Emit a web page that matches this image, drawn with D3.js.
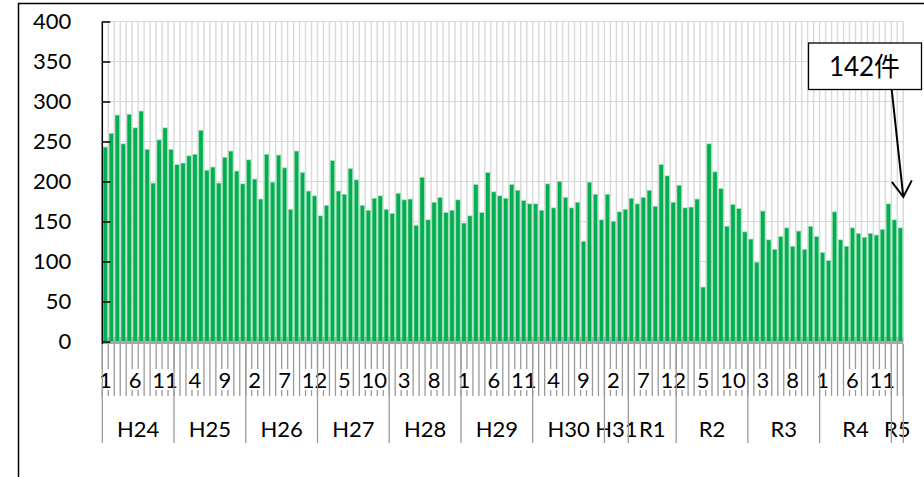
<!DOCTYPE html>
<html>
<head>
<meta charset="utf-8">
<script src="https://cdn.jsdelivr.net/npm/d3@7"></script>
<style>
  html, body { margin: 0; padding: 0; background: #fff; }
  svg { display: block; }
  text { font-family: "Lato", "Noto Sans CJK JP", sans-serif; fill: #000; }
</style>
</head>
<body>
<div id="chart"></div>
<script>
// monthly counts, Jan H24 (2012) .. Feb R5 (2023)
var yearLabels = ["H24", "H25", "H26", "H27", "H28", "H29", "H30", "H31", "R1", "R2", "R3", "R4", "R5"];
var yearMonths = [12, 12, 12, 12, 12, 12, 12, 4, 8, 12, 12, 12, 2];
var monthNames = ["1", "2", "3", "4", "5", "6", "7", "8", "9", "10", "11", "12"];
var yTicks = [0, 50, 100, 150, 200, 250, 300, 350, 400];

var counts = [
  243, 260, 283, 247, 284, 267, 288, 240, 198, 252, 267, 240,   // H24
  221, 223, 232, 234, 264, 214, 218, 198, 230, 238, 213, 197,   // H25
  227, 203, 178, 234, 199, 233, 217, 165, 238, 211, 188, 182,   // H26
  157, 170, 226, 188, 184, 216, 202, 170, 164, 179, 182, 165,   // H27
  160, 185, 177, 178, 145, 205, 152, 174, 180, 161, 164, 177,   // H28
  148, 157, 196, 161, 211, 187, 182, 179, 196, 189, 176, 172,   // H29
  172, 164, 197, 167, 200, 180, 167, 174, 125, 199, 184, 152,   // H30
  184, 150, 162, 165,                                           // H31
  179, 172, 180, 189, 169, 221, 207, 174,                       // R1
  195, 167, 168, 178, 68, 247, 212, 191, 144, 171, 166, 137,    // R2
  128, 99, 163, 127, 115, 131, 142, 119, 138, 115, 144, 131,    // R3
  111, 101, 162, 127, 119, 142, 135, 130, 135, 133, 140, 172,   // R4
  152, 142                                                      // R5
];
var noteText = "142件";

var W = 924, H = 477;
var plotL = 102.3, plotR = 903.3, plotT = 21.5, plotB = 341.5;
var fs = "22px";

var svg = d3.select("#chart").append("svg")
  .attr("width", W)
  .attr("height", H);

// outer frame (only left and top edges are visible)
svg.append("rect")
  .attr("x", 18.5).attr("y", 3.5)
  .attr("width", 1000).attr("height", 1000)
  .attr("fill", "none")
  .attr("stroke", "#000")
  .attr("stroke-width", 1.5);

var idx = d3.range(counts.length);

var x = d3.scaleBand()
  .domain(idx)
  .range([plotL, plotR])
  .paddingInner(0.28)
  .paddingOuter(0.14);

var y = d3.scaleLinear()
  .domain([0, 400])
  .range([plotB, plotT]);

var step = x.step();
var edge = function(k) { return x(0) - step * 0.14 + k * step; };

// vertical grid lines between months
svg.append("g")
  .selectAll("line")
  .data(d3.range(counts.length + 1))
  .join("line")
  .attr("x1", edge).attr("x2", edge)
  .attr("y1", y(400)).attr("y2", plotB)
  .attr("stroke", "#d9d9d9")
  .attr("stroke-width", 1.4);

// horizontal grid lines
svg.append("g")
  .selectAll("line")
  .data(yTicks.slice(1))
  .join("line")
  .attr("x1", plotL).attr("x2", plotR)
  .attr("y1", function(d) { return y(d); })
  .attr("y2", function(d) { return y(d); })
  .attr("stroke", "#ddd9c4")
  .attr("stroke-width", 1.2);

// grey base band
svg.append("rect")
  .attr("x", plotL).attr("y", y(0) - 4.5)
  .attr("width", plotR - plotL).attr("height", 7)
  .attr("fill", "#a6a6a6");

// bars
svg.append("g")
  .selectAll("rect")
  .data(counts)
  .join("rect")
  .attr("x", function(d, i) { return x(i); })
  .attr("y", function(d) { return y(d); })
  .attr("width", x.bandwidth())
  .attr("height", function(d) { return y(0) - y(d); })
  .attr("fill", "#00b050")
  .attr("stroke", "#8fd9ad")
  .attr("stroke-width", 0.6);

// y axis
var yAxis = d3.axisLeft(y)
  .tickValues(yTicks)
  .tickSizeInner(-8)
  .tickSizeOuter(0)
  .tickPadding(31);

var gy = svg.append("g")
  .attr("transform", "translate(" + plotL + ",0)")
  .call(yAxis);
gy.attr("font-family", null).attr("font-size", null);
gy.select(".domain").attr("stroke", "#000").attr("stroke-width", 1.5)
  .attr("d", "M0," + plotT + "V" + (plotB + 2.5));
gy.selectAll(".tick line").attr("stroke", "#000").attr("stroke-width", 1.5);
gy.selectAll(".tick text")
  .style("font-size", fs)
  .attr("dy", "0.33em");

// month tick marks
var axisY = plotB + 2.5;
svg.append("g")
  .selectAll("line")
  .data(d3.range(counts.length + 1))
  .join("line")
  .attr("x1", edge).attr("x2", edge)
  .attr("y1", axisY).attr("y2", 396)
  .attr("stroke", "#9a9a9a")
  .attr("stroke-width", 1.3);

// month labels every 5 months, on white
var monthG = svg.append("g");
idx.filter(function(i) { return i % 5 === 0; }).forEach(function(i) {
  var cx = x(i) + x.bandwidth() / 2;
  var t = monthG.append("text")
    .attr("x", cx)
    .attr("y", 388)
    .attr("text-anchor", "middle")
    .style("font-size", fs)
    .text(monthNames[i % 12]);
  var b = t.node().getBBox();
  monthG.insert("rect", "text")
    .attr("x", b.x).attr("y", b.y + 3)
    .attr("width", b.width).attr("height", b.height - 6)
    .attr("fill", "#fff");
});

// year groups
var starts = [0];
yearMonths.forEach(function(m, k) { starts.push(starts[k] + m); });

svg.append("g")
  .selectAll("text")
  .data(yearLabels)
  .join("text")
  .attr("x", function(d, k) { return (edge(starts[k]) + edge(starts[k + 1])) / 2; })
  .attr("y", 437)
  .attr("text-anchor", "middle")
  .style("font-size", fs)
  .text(function(d) { return d; });

svg.append("g")
  .selectAll("line")
  .data(starts)
  .join("line")
  .attr("x1", function(s) { return edge(s); })
  .attr("x2", function(s) { return edge(s); })
  .attr("y1", axisY).attr("y2", 443)
  .attr("stroke", "#9a9a9a")
  .attr("stroke-width", 1.3);

// callout for latest month
var last = counts.length - 1;
var tipX = edge(counts.length);
var tipY = y(counts[last]) - 31;
var box = { x: 808.5, y: 43, w: 113, h: 46.5 };

svg.append("line")
  .attr("x1", 891.7).attr("y1", box.y + box.h)
  .attr("x2", tipX).attr("y2", tipY)
  .attr("stroke", "#000").attr("stroke-width", 2);
svg.append("path")
  .attr("d", "M" + (tipX - 11.5) + "," + (tipY - 15) + "L" + tipX + "," + tipY + "L" + (tipX + 8.5) + "," + (tipY - 16.5))
  .attr("fill", "none")
  .attr("stroke", "#000").attr("stroke-width", 2);

svg.append("rect")
  .attr("x", box.x).attr("y", box.y)
  .attr("width", box.w).attr("height", box.h)
  .attr("fill", "#fff")
  .attr("stroke", "#000")
  .attr("stroke-width", 1.3);
svg.append("text")
  .attr("x", box.x + box.w / 2 - 0.5)
  .attr("y", box.y + box.h / 2 + 9.5)
  .attr("text-anchor", "middle")
  .style("font-size", "26px")
  .text(noteText);
</script>
</body>
</html>
